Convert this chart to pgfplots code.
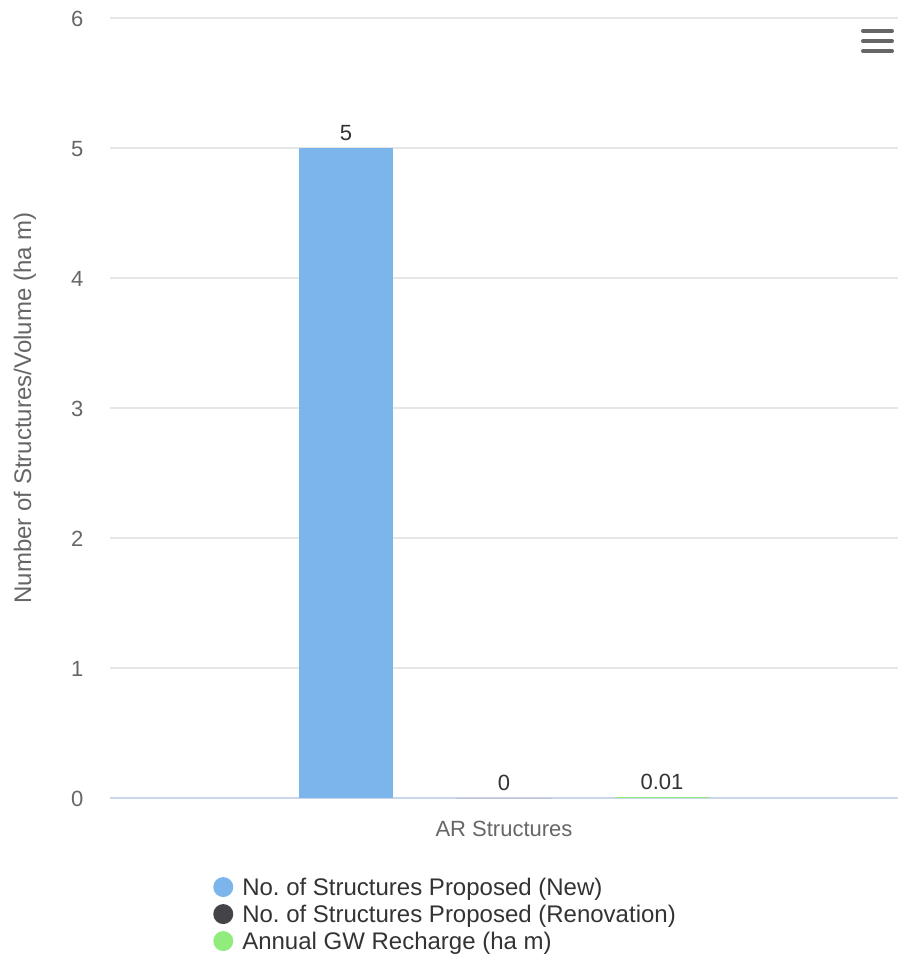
\documentclass[border=0pt]{standalone}
\usepackage{fontspec}
\setmainfont{Liberation Sans}
\usepackage{pgfplots}
\pgfplotsset{compat=1.18}

\definecolor{hcblue}{HTML}{7CB5EC}
\definecolor{hcdark}{HTML}{434348}
\definecolor{hcgreen}{HTML}{90ED7D}
\definecolor{gridgray}{HTML}{E6E6E6}
\definecolor{axisline}{HTML}{CCD6EB}
\definecolor{labgray}{HTML}{666666}
\definecolor{txtdark}{HTML}{333333}

% round legend marker that does not change the legend row height
\pgfplotsset{
  dotlegend/.style={legend image code/.code={%
    \fill[#1, overlay] (10pt,1.5pt) circle (10pt);
    \path (0pt,0pt) -- (20pt,0pt);}},
}

\begin{document}
\begin{tikzpicture}
\path[use as bounding box] (-110pt,-165pt) rectangle (789pt,798pt);

\begin{axis}[
  scale only axis,
  width=788pt, height=780pt,
  at={(0pt,0pt)}, anchor=south west,
  ybar, bar width=0.6,
  xmin=-2.494, xmax=2.494,
  ymin=0, ymax=6,
  ytick={0,1,2,3,4,5,6},
  xtick={0}, xticklabels={AR Structures},
  major tick length=0pt,
  axis x line*=bottom, axis y line*=left,
  x axis line style={draw=axisline, line width=2pt},
  y axis line style={draw=none},
  ymajorgrids, grid style={draw=gridgray, line width=1.5pt},
  /pgf/number format/assume math mode=true,
  tick label style={font=\fontsize{22}{26}\selectfont, text=labgray},
  yticklabel style={xshift=-23pt, yshift=-1pt},
  xticklabel style={yshift=-20pt},
  ylabel={Number of Structures/Volume (ha m)},
  ylabel style={at={(axis description cs:-0.108,0.5)}, anchor=center,
    font=\fontsize{24}{28}\selectfont, text=labgray},
  point meta=explicit symbolic,
  nodes near coords={\pgfplotspointmeta},
  nodes near coords style={font=\fontsize{22}{26}\selectfont, text=txtdark,
    anchor=south, yshift=3.5pt},
  legend cell align=left,
  legend style={at={(axis description cs:0.127,-0.096)}, anchor=north west,
    draw=none, fill=none, font=\fontsize{24}{28}\selectfont, text=txtdark,
    nodes={inner sep=2pt, text height=18pt, text depth=5pt},
    row sep=0pt, column sep=7pt},
]
\addplot[fill=hcblue, draw=none, bar shift=0pt, dotlegend=hcblue]
  coordinates {(-1,5) [5]};
\addlegendentry{No.\ of Structures Proposed (New)}
\addplot[fill=hcdark, draw=none, bar shift=0pt, dotlegend=hcdark]
  coordinates {(0,0) [0]};
\addlegendentry{No.\ of Structures Proposed (Renovation)}
\addplot[fill=hcgreen, draw=none, bar shift=0pt, dotlegend=hcgreen]
  coordinates {(1,0.01) [0.01]};
\addlegendentry{Annual GW Recharge (ha m)}
\end{axis}

% context menu icon
\draw[labgray, line width=4pt, line cap=round]
  (753pt,767pt) -- (782pt,767pt)
  (753pt,757pt) -- (782pt,757pt)
  (753pt,747pt) -- (782pt,747pt);
\end{tikzpicture}
\end{document}
